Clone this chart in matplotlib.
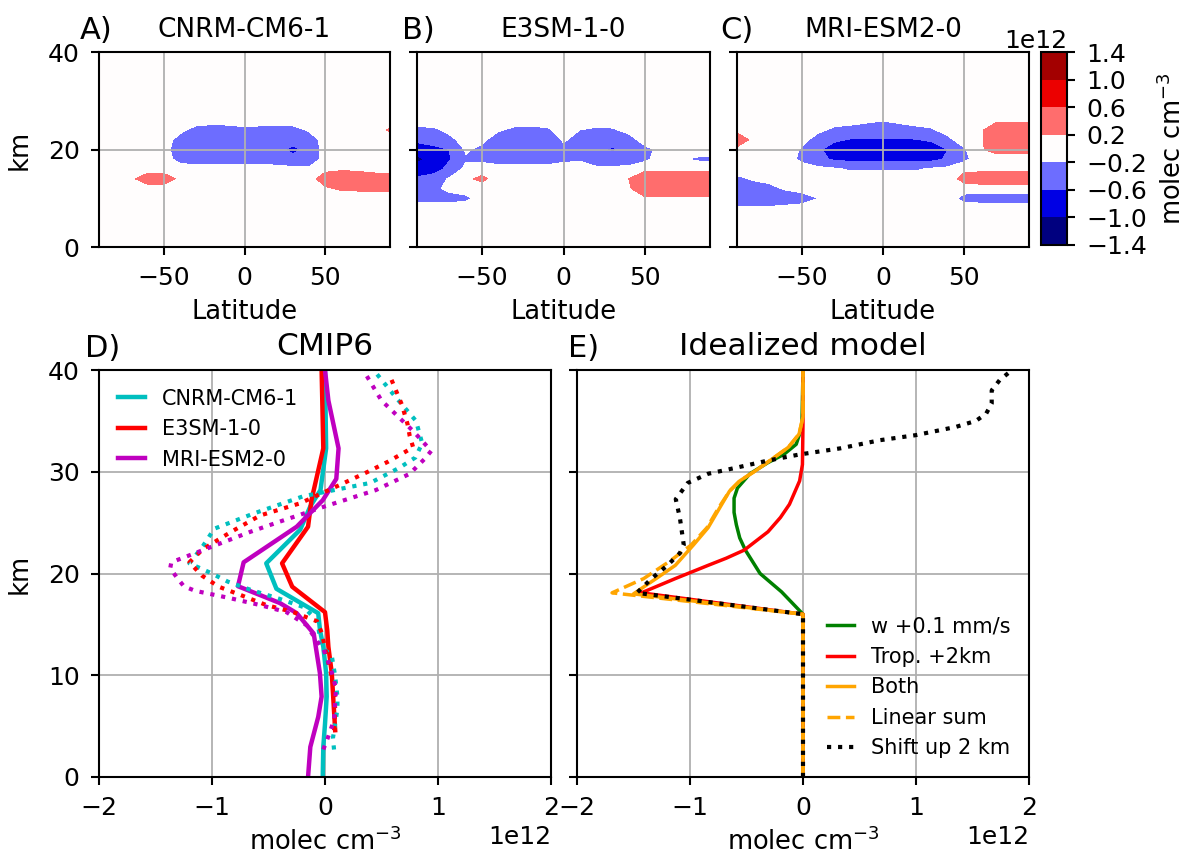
import numpy as np
import matplotlib
matplotlib.use("Agg")
import matplotlib.pyplot as plt

SC = 1e12

# ---- zonal mean sections (units of 1e12 molec cm-3) ----
lat = [-90, -80, -70, -60, -50, -40, -30, -20, -10, 0, 10, 20, 30, 40, 50, 60, 70, 80, 90]
zrow = [8, 10, 12, 14, 16, 18, 20, 22, 24, 26]

cnrm_map = [
    [0, 0, 0, 0, 0, 0, 0, 0, 0, 0, 0, 0, 0, 0, 0, 0, 0, 0, 0],
    [0, 0, 0, 0, 0, 0, 0, 0, 0, 0, 0, 0, 0, 0, 0, 0, 0, 0, 0],
    [0, 0, 0, 0, 0, 0, 0, 0, 0, 0, 0, 0, 0, 0, 0.15, 0.25, 0.27, 0.28, 0.28],
    [0, 0, 0.12, 0.45, 0.45, 0.1, 0, 0, 0, 0, 0, 0, 0, 0.05, 0.4, 0.45, 0.45, 0.42, 0.4],
    [0, 0, 0, 0, 0, 0, 0, 0, 0, 0, 0, 0, -0.1, -0.1, 0.1, 0.15, 0.12, 0.05, 0],
    [0, 0, 0, 0, 0, -0.35, -0.45, -0.45, -0.45, -0.45, -0.45, -0.5, -0.5, -0.5, -0.05, 0, 0, 0, 0],
    [0, 0, 0, 0, 0, -0.5, -0.5, -0.5, -0.5, -0.5, -0.5, -0.5, -0.68, -0.5, -0.05, 0, 0, 0, 0],
    [0, 0, 0, 0, 0, -0.35, -0.45, -0.45, -0.45, -0.45, -0.45, -0.45, -0.45, -0.45, 0, 0, 0, 0, 0],
    [0, 0, 0, 0, 0, -0.1, -0.35, -0.45, -0.4, -0.3, -0.35, -0.4, -0.35, -0.15, 0, 0, 0, 0, 0.25],
    [0, 0, 0, 0, 0, 0, 0, 0, 0, 0, 0, 0, 0, 0, 0, 0, 0, 0, 0],
]

e3sm_map = [
    [0, 0, 0, 0, 0, 0, 0, 0, 0, 0, 0, 0, 0, 0, 0, 0, 0, 0, 0],
    [-0.35, -0.35, -0.35, -0.3, 0, 0, 0, 0, 0, 0, 0, 0, 0, 0, 0.15, 0.15, 0.15, 0.15, 0.15],
    [-0.4, -0.3, -0.1, 0, 0, 0, 0, 0, 0, 0, 0, 0, 0, 0.15, 0.45, 0.45, 0.45, 0.45, 0.45],
    [-0.55, -0.45, -0.15, 0.12, 0.3, 0, 0, 0, 0, 0, 0, 0, 0, 0.2, 0.5, 0.5, 0.5, 0.5, 0.5],
    [-0.8, -0.75, -0.5, -0.1, 0, 0, 0, 0, 0, 0, 0, -0.1, -0.1, -0.1, 0.1, 0.1, 0.1, 0.1, 0.1],
    [-1.1, -0.85, -0.62, -0.25, -0.3, -0.45, -0.45, -0.45, -0.45, -0.3, -0.25, -0.45, -0.45, -0.4, -0.3, 0, 0, -0.25, -0.3],
    [-0.85, -0.7, -0.6, -0.15, -0.3, -0.5, -0.5, -0.5, -0.5, -0.3, -0.45, -0.5, -0.65, -0.45, -0.3, -0.1, 0, 0, 0],
    [-0.5, -0.45, -0.3, -0.05, -0.1, -0.45, -0.5, -0.5, -0.5, -0.15, -0.35, -0.45, -0.45, -0.35, -0.05, 0, 0, 0, 0],
    [-0.3, -0.28, -0.1, 0, 0, -0.15, -0.3, -0.3, -0.28, 0, -0.2, -0.28, -0.25, -0.1, 0, 0, 0, 0, 0],
    [0, 0, 0, 0, 0, 0, 0, 0, 0, 0, 0, 0, 0, 0, 0, 0, 0, 0, 0],
]

mri_map = [
    [-0.15, -0.15, -0.15, -0.1, -0.05, 0, 0, 0, 0, 0, 0, 0, 0, 0, 0, 0, 0, 0, 0],
    [-0.45, -0.45, -0.45, -0.45, -0.4, -0.2, 0, 0, 0, 0, 0, 0, 0, 0, -0.35, -0.4, -0.4, -0.4, -0.4],
    [-0.45, -0.4, -0.3, -0.15, -0.05, 0, 0, 0, 0, 0, 0, 0, 0, 0, 0, 0, 0, 0, 0],
    [-0.3, -0.15, -0.1, 0, 0, 0, 0, 0, 0, 0, 0, 0, 0, 0, 0.35, 0.45, 0.45, 0.45, 0.45],
    [0, 0, 0, 0, 0, -0.1, -0.15, -0.25, -0.25, -0.25, -0.25, -0.25, -0.15, -0.1, 0.1, 0.1, 0.1, 0.1, 0.1],
    [0, 0, 0, 0, -0.3, -0.5, -0.65, -0.7, -0.7, -0.7, -0.7, -0.7, -0.7, -0.55, -0.3, 0, 0, 0, 0],
    [0.1, 0, 0, 0, -0.25, -0.55, -0.75, -0.8, -0.8, -0.8, -0.8, -0.8, -0.8, -0.6, -0.25, 0.15, 0.35, 0.35, 0.35],
    [0.45, 0.1, 0, 0, -0.05, -0.4, -0.55, -0.62, -0.62, -0.62, -0.62, -0.62, -0.55, -0.3, 0, 0.15, 0.45, 0.45, 0.45],
    [0.1, 0, 0, 0, 0, -0.1, -0.3, -0.4, -0.45, -0.45, -0.4, -0.35, -0.25, -0.05, 0, 0.15, 0.4, 0.4, 0.4],
    [0, 0, 0, 0, 0, 0, 0, 0, -0.1, -0.18, -0.1, 0, 0, 0, 0, 0, 0.15, 0.15, 0.15],
]

levels = [-1.4, -1.0, -0.6, -0.2, 0.2, 0.6, 1.0, 1.4]

# ---- CMIP6 profiles ----
cnrm_z = [0, 3, 5.2, 7.9, 10.2, 12.8, 14.4, 16.1, 18.5, 21.0, 24.3, 26.6, 28.2, 32.3, 40]
cnrm_x = [-0.02, -0.015, 0.0, 0.015, 0.01, -0.015, -0.044, -0.06, -0.43, -0.52, -0.22, -0.13, -0.04, 0.01, 0.0]
e3sm_z = [4.6, 10.2, 12.8, 14.4, 16.2, 18.7, 21.0, 24.6, 27.2, 32.3, 40]
e3sm_x = [0.09, 0.06, 0.03, 0.02, 0.0, -0.29, -0.38, -0.15, -0.12, -0.015, -0.03]
mri_z = [0, 2.95, 5.9, 7.9, 10.2, 14.1, 16.1, 17.1, 18.75, 21.1, 24.6, 27.2, 29.3, 32.3, 37.0, 40]
mri_x = [-0.15, -0.13, -0.06, -0.03, -0.045, -0.1, -0.25, -0.4, -0.77, -0.72, -0.25, -0.02, 0.10, 0.12, 0.03, 0.0]

cnrm_dz = [2.7, 3.8, 6.7, 7.9, 9.9, 11.9, 12.8, 15.4, 16.7, 17.5, 18.4, 19.2, 20.1, 21.0, 22.7, 24.4,
           25.9, 27.6, 28.9, 30.4, 31.4, 32.8, 35.0, 37.4, 40.0]
cnrm_dx = [0.08, 0.07, 0.11, 0.11, 0.09, 0.06, -0.03, -0.07, -0.19, -0.40, -0.66, -0.86, -1.02, -1.2, -1.08, -0.98,
           -0.63, -0.19, 0.4, 0.66, 0.8, 0.86, 0.805, 0.62, 0.43]
e3sm_dz = [4.6, 6.6, 8.9, 11.7, 14.2, 15.3, 16.2, 16.9, 17.9, 18.7, 19.8, 21.1, 22.4, 24.1, 25.7, 26.9,
           28.7, 30.0, 31.0, 32.4, 33.5, 34.7, 36.6, 39.4]
e3sm_dx = [0.08, 0.09, 0.08, 0.02, -0.03, -0.07, -0.28, -0.52, -0.75, -0.94, -1.09, -1.2, -1.08, -0.83, -0.575, -0.22,
           0.13, 0.38, 0.56, 0.78, 0.75, 0.73, 0.68, 0.575]
mri_dz = [2.7, 3.7, 5.6, 8.7, 10.7, 12.6, 13.3, 14.9, 16.2, 16.9, 17.6, 18.3, 18.75, 19.6, 20.5, 21.1,
          24.1, 25.1, 26.6, 28.2, 29.8, 31.3, 32.05, 34.0, 37.0, 39.7]
mri_dx = [-0.015, 0.02, 0.08, 0.097, 0.05, -0.015, -0.07, -0.16, -0.34, -0.575, -0.85, -1.15, -1.25, -1.31, -1.37, -1.36,
          -0.66, -0.40, 0.0, 0.45, 0.75, 0.885, 0.94, 0.78, 0.50, 0.354]

# ---- idealized model ----
w_z = [0, 16, 18.2, 20, 22.3, 23.5, 24.8, 26.0, 27.4, 28.4, 29.8, 30.9, 31.7, 32.7, 34.4, 40]
w_x = [0, 0, -0.19, -0.38, -0.51, -0.56, -0.59, -0.61, -0.61, -0.58, -0.47, -0.31, -0.17, -0.06, -0.01, 0]
trop_z = [0, 16, 18.1, 19.5, 20.8, 21.5, 22.3, 24.1, 25.5, 26.8, 29.1, 30.7, 34.7, 40]
trop_x = [0, 0, -1.43, -1.13, -0.84, -0.68, -0.52, -0.31, -0.2, -0.12, -0.03, -0.005, 0, 0]
both_z = [0, 16, 18.0, 19.5, 20.8, 22.8, 24.5, 26.4, 28.1, 29.1, 30.1, 31.2, 32.4, 33.7, 35.4, 40]
both_x = [0, 0, -1.5, -1.3, -1.13, -0.97, -0.84, -0.74, -0.65, -0.56, -0.42, -0.28, -0.13, -0.035, 0, 0]
lin_z = [0, 16, 18.1, 19.5, 21.2, 22.8, 24.5, 26.4, 28.1, 29.1, 30.1, 31.2, 32.4, 33.7, 35.4, 40]
lin_x = [0, 0, -1.69, -1.41, -1.18, -0.99, -0.85, -0.75, -0.65, -0.56, -0.42, -0.28, -0.13, -0.035, 0, 0]
shift_z = [0, 16, 18.1, 19.5, 20.8, 22.0, 22.8, 25.5, 27.3, 28.9, 29.8, 30.4, 31.1, 31.7, 32.3, 33.1, 33.6,
           34.4, 35.0, 35.7, 36.7, 38.0, 39.0, 40]
shift_x = [0, 0, -1.47, -1.34, -1.2, -1.09, -1.055, -1.09, -1.126, -1.02, -0.84, -0.59, -0.31, -0.03, 0.33, 0.68, 1.0,
           1.35, 1.53, 1.62, 1.67, 1.67, 1.74, 1.85]


def full_field(rows):
    f = np.array(rows, dtype=float)
    zero = np.zeros((1, f.shape[1]))
    z = [0, 6] + zrow + [28, 40]
    return np.array(z), np.vstack([zero, zero, f, zero, zero]) * SC


def style_axes(ax):
    for s in ax.spines.values():
        s.set_linewidth(1.5)
    ax.tick_params(length=6, width=1.5, pad=8, labelsize=18)
    ax.grid(True, color='#b0b0b0', lw=1.3)


plt.rcParams['font.size'] = 18
fig = plt.figure(figsize=(11.86, 8.57), dpi=100)

W, H = 1186.0, 857.0


def px_axes(x0, y0, x1, y1):
    return fig.add_axes([x0 / W, 1 - y1 / H, (x1 - x0) / W, (y1 - y0) / H])


top = [(99, 390, cnrm_map, 'CNRM-CM6-1', 'A)', -0.065),
       (417, 710, e3sm_map, 'E3SM-1-0', 'B)', -0.052),
       (737, 1029, mri_map, 'MRI-ESM2-0', 'C)', -0.058)]
lv = np.array(levels) * SC
for i, (x0, x1, data, name, letter, lx) in enumerate(top):
    ax = px_axes(x0, 52, x1, 247)
    z, field = full_field(data)
    cf = ax.contourf(lat, z, field, levels=lv, cmap='seismic')
    ax.set_xlim(-90, 90)
    ax.set_ylim(0, 40)
    ax.set_xticks([-50, 0, 50])
    ax.set_yticks([0, 20, 40])
    style_axes(ax)
    ax.set_xlabel('Latitude', fontsize=18.5, labelpad=6)
    if i == 0:
        ax.set_ylabel('km', fontsize=18.5, labelpad=11)
    else:
        ax.set_yticklabels([])
    ax.set_title(name, fontsize=19, pad=11)
    ax.text(lx, 1.065, letter, transform=ax.transAxes, fontsize=22, va='baseline')

cax = px_axes(1041, 52, 1067, 245)
cb = fig.colorbar(cf, cax=cax, ticks=lv)
cb.set_label('molec cm$^{-3}$', fontsize=18.5, labelpad=8)
cb.outline.set_linewidth(1.5)
cax.tick_params(length=6, width=1.5, pad=8, labelsize=18)

# CMIP6 profiles
axD = px_axes(99, 370, 551, 777)
axD.plot(np.array(cnrm_x) * SC, cnrm_z, color='c', lw=3.2, label='CNRM-CM6-1')
axD.plot(np.array(e3sm_x) * SC, e3sm_z, color='r', lw=3.2, label='E3SM-1-0')
axD.plot(np.array(mri_x) * SC, mri_z, color='m', lw=3.2, label='MRI-ESM2-0')
axD.plot(np.array(cnrm_dx) * SC, cnrm_dz, color='c', lw=3, ls=':')
axD.plot(np.array(e3sm_dx) * SC, e3sm_dz, color='r', lw=3, ls=':')
axD.plot(np.array(mri_dx) * SC, mri_dz, color='m', lw=3, ls=':')
axD.legend(loc='upper left', frameon=False, fontsize=15, handlelength=1.3)
axD.set_title('CMIP6', fontsize=22.5, pad=11)
axD.text(-0.03, 1.033, 'D)', transform=axD.transAxes, fontsize=22, va='baseline')
axD.set_ylabel('km', fontsize=18.5, labelpad=11)

# idealized model
axE = px_axes(577, 370, 1029, 777)
axE.plot(np.array(w_x) * SC, w_z, color='g', lw=2.5, label='w +0.1 mm/s')
axE.plot(np.array(trop_x) * SC, trop_z, color='r', lw=2.5, label='Trop. +2km')
axE.plot(np.array(both_x) * SC, both_z, color='orange', lw=2.5, label='Both')
axE.plot(np.array(lin_x) * SC, lin_z, color='orange', lw=2.5, ls='--', label='Linear sum')
axE.plot(np.array(shift_x) * SC, shift_z, color='k', lw=3, ls=':', label='Shift up 2 km')
axE.legend(loc='lower right', frameon=False, fontsize=15, handlelength=1.3)
axE.set_title('Idealized model', fontsize=22.5, pad=11)
axE.text(-0.02, 1.033, 'E)', transform=axE.transAxes, fontsize=22, va='baseline')

for ax in (axD, axE):
    ax.set_xlim(-2 * SC, 2 * SC)
    ax.set_ylim(0, 40)
    ax.set_xticks(np.array([-2, -1, 0, 1, 2]) * SC)
    ax.set_yticks([0, 10, 20, 30, 40])
    style_axes(ax)
    ax.set_xlabel('molec cm$^{-3}$', fontsize=18.5, labelpad=5)
axE.set_yticklabels([])

fig.savefig('out.png', dpi=100)
